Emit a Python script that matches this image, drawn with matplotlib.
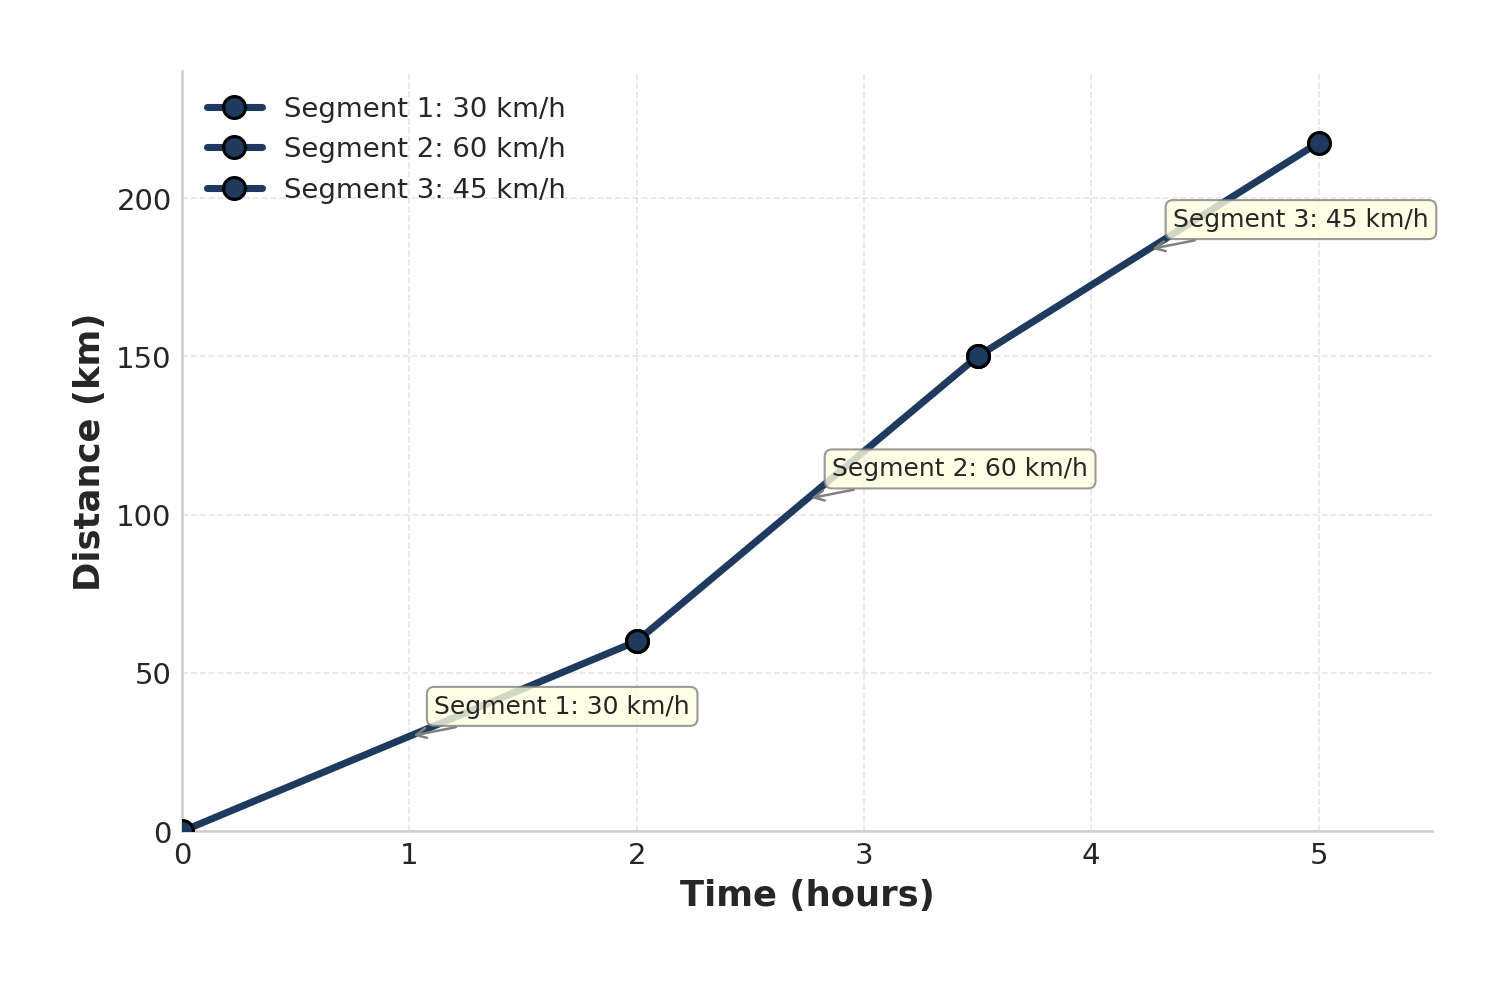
import numpy as np
import matplotlib.pyplot as plt
import seaborn as sns

sns.set_style('whitegrid')
plt.rcParams['font.family'] = ['DejaVu Sans']

# breakpoints of the trip
times = [0, 2, 3.5, 5]
distances = [0, 60, 150, 217.5]
speeds = [30, 60, 45]
labels = ['Segment 1: 30 km/h', 'Segment 2: 60 km/h', 'Segment 3: 45 km/h']

line_color = '#1f3a5f'

fig = plt.figure(figsize=(10.03, 6.57), dpi=150)
ax = fig.add_axes([0.121, 0.156, 0.831, 0.771])

for i in range(3):
    ax.plot(times[i:i + 2], distances[i:i + 2], '-o', color=line_color,
            lw=3.4, markersize=10.5, markeredgecolor='black',
            markeredgewidth=1.5, label=labels[i], zorder=3)
    xm = (times[i] + times[i + 1]) / 2.
    ym = (distances[i] + distances[i + 1]) / 2.
    ax.annotate(labels[i], xy=(xm, ym), xytext=(12, 11),
                textcoords='offset points', fontsize=12, color='#262626',
                bbox=dict(boxstyle='round,pad=0.3', fc='lightyellow',
                          ec='gray', alpha=0.8),
                arrowprops=dict(arrowstyle='->', color='gray', lw=1.2),
                zorder=4)

ax.set_xlim(0, 5.5)
ax.set_ylim(0, 240)
ax.set_xticks([0, 1, 2, 3, 4, 5])
ax.set_yticks([0, 50, 100, 150, 200])
ax.tick_params(labelsize=14, colors='#262626', length=0, pad=5)
ax.set_xlabel('Time (hours)', fontsize=17, fontweight='bold', color='#262626',
              labelpad=4)
ax.set_ylabel('Distance (km)', fontsize=17, fontweight='bold', color='#262626',
              labelpad=4.5)

ax.grid(True, linestyle='--', alpha=0.5)
for s in ['top', 'right']:
    ax.spines[s].set_visible(False)
for s in ['left', 'bottom']:
    ax.spines[s].set_color('#cccccc')
    ax.spines[s].set_linewidth(1.2)

ax.legend(loc='upper left', frameon=False, fontsize=13.2, labelspacing=0.53)

fig.savefig('out.png', dpi=150)
